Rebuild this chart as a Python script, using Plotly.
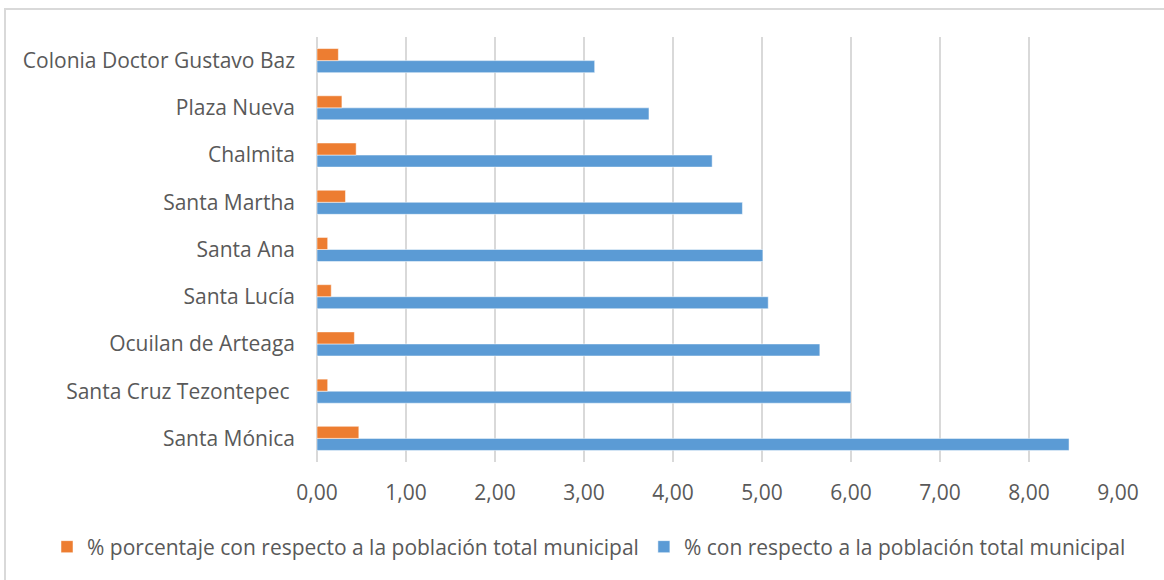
import plotly.graph_objects as go

categories = [
    "Santa Mónica",
    "Santa Cruz Tezontepec\u00a0",
    "Ocuilan de Arteaga",
    "Santa Lucía",
    "Santa Ana",
    "Santa Martha",
    "Chalmita",
    "Plaza Nueva",
    "Colonia Doctor Gustavo Baz",
]
pct_total = [8.45, 6.00, 5.65, 5.07, 5.01, 4.78, 4.44, 3.73, 3.12]
pct_porcentaje = [0.47, 0.12, 0.42, 0.16, 0.12, 0.32, 0.44, 0.28, 0.24]
tick_vals = [0, 1, 2, 3, 4, 5, 6, 7, 8, 9]
tick_text = ["0,00", "1,00", "2,00", "3,00", "4,00", "5,00", "6,00", "7,00", "8,00", "9,00"]

FONT = "Open Sans"
GRAY = "#595959"
FS = 21

W, H = 1164, 580
L, R, T, B = 317, 46, 37, 118
PW, PH = W - L - R, H - T - B

fig = go.Figure()
fig.add_trace(go.Bar(
    y=categories, x=pct_total, orientation="h",
    name="% con respecto a la población total municipal",
    marker=dict(color="#5B9BD5", line=dict(color="#FFFFFF", width=0.5)),
    legendrank=2,
))
fig.add_trace(go.Bar(
    y=categories, x=pct_porcentaje, orientation="h",
    name="% porcentaje con respecto a la población total municipal",
    marker=dict(color="#ED7D31", line=dict(color="#FFFFFF", width=0.5)),
    legendrank=1,
))

fig.update_layout(
    width=W, height=H,
    margin=dict(l=L, r=R, t=T, b=B, autoexpand=False),
    paper_bgcolor="white", plot_bgcolor="white",
    barmode="group", bargap=0.49, bargroupgap=0,
    font=dict(family=FONT, size=FS, color=GRAY),
    showlegend=True,
    legend=dict(orientation="h", x=(47 - L) / PW, xanchor="left", xref="paper",
                y=-(547 - (T + PH)) / PH, yanchor="middle", yref="paper",
                font=dict(size=FS, color=GRAY), itemwidth=30,
                tracegroupgap=0),
    xaxis=dict(range=[0, 9], tickvals=tick_vals, ticktext=tick_text,
               showgrid=True, gridcolor="#D9D9D9", gridwidth=2,
               zeroline=True, zerolinecolor="#D9D9D9", zerolinewidth=2,
               showline=False, ticks="", ticklabelstandoff=16,
               tickfont=dict(size=FS, color=GRAY), fixedrange=True,
               automargin=False),
    yaxis=dict(showgrid=False, zeroline=False, showline=False, ticks="",
               ticklabelstandoff=21,
               tickfont=dict(size=FS, color=GRAY), fixedrange=True,
               automargin=False),
    shapes=[dict(type="rect", xref="paper", yref="paper",
                 x0=(5 - L) / PW, x1=(1175 - L) / PW,
                 y0=-(590 - T - PH) / PH, y1=1 + (T - 9) / PH,
                 line=dict(color="#D9D9D9", width=2), layer="below")],
)

fig.write_html("out.html", config={"displayModeBar": False},
               post_script="document.body.style.margin='0';")
